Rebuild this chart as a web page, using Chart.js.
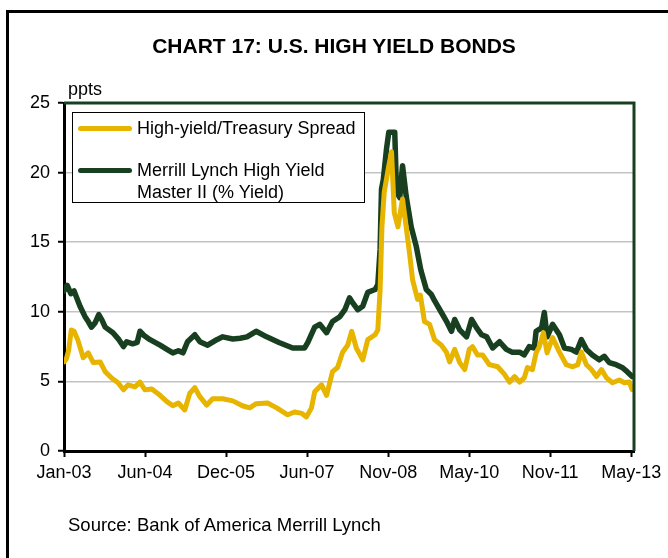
<!DOCTYPE html>
<html>
<head>
<meta charset="utf-8">
<script src="https://cdn.jsdelivr.net/npm/chart.js@4.4.1/dist/chart.umd.min.js"></script>
<style>
  html, body { margin: 0; padding: 0; background: #fff; }
  body { width: 668px; height: 558px; position: relative; overflow: hidden;
         font-family: "Liberation Sans", Arial, sans-serif; color: #000; }
  #frame { position: absolute; left: 6px; top: 10px; width: 700px; height: 600px;
           border: 3px solid #000; box-sizing: border-box; }
  #chartBox { position: absolute; left: 0; top: 0; width: 668px; height: 558px; }
  #title { position: absolute; left: 0; width: 668px; top: 34px; text-align: center;
           font-weight: bold; font-size: 21px; }
  #unit { position: absolute; left: 68px; top: 79px; font-size: 18px; }
  #source { position: absolute; left: 68px; top: 514px; font-size: 18.5px; }
  #legend { position: absolute; left: 72px; top: 112px; width: 293px; height: 91px;
            border: 1px solid #000; background: #fff; box-sizing: border-box; font-size: 18px; }
  .item { position: absolute; left: 5px; }
  .swatch { position: absolute; left: 0; width: 54px; height: 5px; border-radius: 3px; }
  .label { position: absolute; left: 59px; top: 0; line-height: 22px; white-space: nowrap; }
</style>
</head>
<body>
<div id="frame"></div>
<div id="chartBox"><canvas id="hyChart" width="668" height="558"></canvas></div>
<div id="title">CHART 17: U.S. HIGH YIELD BONDS</div>
<div id="unit">ppts</div>
<div id="legend"></div>
<div id="source">Source: Bank of America Merrill Lynch</div>
<script>
// x positions are months since Jan-03
const xLabels = ["Jan-03", "Jun-04", "Dec-05", "Jun-07", "Nov-08", "May-10", "Nov-11", "May-13"];
const lastMonth = 124;

const spreadMonths = [0, 0.5, 1, 1.6, 2.2, 3, 4.2, 5.3, 6.4, 7.9, 9, 10.4, 11.8, 13, 14, 15.5, 16.6, 17.7,
  19.2, 21, 22.5, 23.8, 25, 26.4, 27.5, 28.6, 29.7, 31.2, 32.5, 34.7, 36.9, 39, 40.6, 42, 44.5, 46.5,
  48.9, 50.4, 52, 53, 54.1, 54.8, 56.3, 57.4, 58.7, 59.8, 60.9, 62, 62.9, 63.9, 65.3, 66.4, 68, 68.6,
  69.1, 69.5, 70, 71, 71.6, 72.2, 73, 73.5, 74, 74.8, 75.5, 76.2, 77.3, 77.9, 78.8, 79.9, 81, 82.5,
  83.6, 84.3, 85.4, 86.5, 87.6, 88.6, 89.3, 90.4, 91.5, 93, 94.8, 96.3, 97.4, 98.5, 99.6, 100.6, 101.3,
  102.4, 103.2, 103.9, 104.8, 105.6, 106.8, 108.3, 109.8, 111.2, 112.3, 113.1, 114.2, 115.3, 116.4,
  117.5, 118.6, 119.9, 121.4, 122.5, 123.6, 124.2];
const spreadValues = [6.4, 6.6, 7.2, 8.7, 8.6, 8.0, 6.7, 7.05, 6.35, 6.4, 5.7, 5.25, 4.9, 4.4, 4.75, 4.6, 4.95, 4.4,
  4.45, 4.0, 3.55, 3.25, 3.45, 2.95, 4.15, 4.55, 3.9, 3.3, 3.75, 3.75, 3.6, 3.25, 3.1, 3.4, 3.45, 3.1,
  2.6, 2.8, 2.7, 2.45, 3.1, 4.25, 4.75, 4.0, 5.7, 6.0, 7.1, 7.6, 8.6, 7.4, 6.55, 8.0, 8.35, 8.7,
  11.6, 16.1, 18.6, 20.5, 21.5, 17.1, 16.1, 17.1, 18.1, 16.1, 14.3, 12.3, 10.9, 11.2, 9.3, 9.1, 8.0, 7.6,
  7.1, 6.4, 7.3, 6.35, 5.85, 7.3, 7.5, 6.9, 6.9, 6.2, 6.05, 5.5, 4.95, 5.35, 4.95, 5.25, 6.0,
  5.85, 7.05, 7.5, 8.5, 7.05, 8.15, 7.1, 6.2, 6.05, 6.2, 7.1, 6.2, 5.85, 5.35,
  5.85, 5.25, 4.9, 5.1, 4.9, 4.95, 4.4];

const yieldMonths = [0, 0.7, 1.5, 2.2, 3.5, 4.6, 5.3, 6, 6.8, 7.6, 8.3, 9, 10.7, 12, 13, 13.7, 15, 16, 16.6,
  17.5, 18.8, 21, 22.5, 23.8, 25, 26, 27, 28.6, 29.7, 31.4, 33.4, 34.7, 36.9, 38.5, 40, 42, 44.3, 47,
  50, 52.6, 53.3, 54.8, 55.9, 57.4, 58.7, 60.3, 61.4, 62.4, 63.2, 64.2, 65.3, 66.4, 68, 68.6, 69.1,
  69.4, 69.8, 70.5, 71, 72.3, 72.7, 73.4, 74, 74.8, 75.9, 77, 78, 79.2, 80.3, 81, 82.5, 83.8, 84.7,
  85.4, 86.5, 88, 89.1, 90.2, 91.3, 92.4, 93.7, 95.2, 96.7, 98, 99.6, 100.6, 101.7, 102.8, 103.2,
  104.4, 105, 105.6, 106.8, 108.3, 109.4, 110.9, 112, 113.1, 114.2, 115.5, 117, 118.1, 119.2, 120.7,
  122, 123.1, 124.2];
const yieldValues = [11.5, 11.9, 11.3, 11.5, 10.4, 9.65, 9.3, 8.9, 9.2, 9.8, 9.4, 8.9, 8.5, 8.0, 7.5, 7.85, 7.7, 7.8, 8.6,
  8.3, 8.0, 7.6, 7.3, 7.05, 7.2, 7.05, 7.85, 8.35, 7.85, 7.6, 8.0, 8.2, 8.05, 8.1, 8.2, 8.6, 8.2, 7.8,
  7.4, 7.4, 7.8, 8.9, 9.1, 8.5, 9.3, 9.65, 10.15, 11.0, 10.6, 10.15, 10.4, 11.4, 11.6, 11.95, 14.5,
  18.8, 19.5, 21.7, 22.9, 22.9, 18.6, 18.2, 20.5, 18.3, 16.1, 14.7, 13.0, 11.6, 11.25, 10.8, 9.95, 9.2, 8.6,
  9.45, 8.7, 8.2, 9.45, 8.85, 8.35, 8.2, 7.4, 7.85, 7.3, 7.1, 7.1, 6.9, 7.5, 7.4, 8.6,
  8.85, 9.95, 8.2, 9.1, 8.35, 7.4, 7.3, 7.1, 8.0, 7.3, 6.9, 6.55, 6.8, 6.35, 6.2,
  6.0, 5.7, 5.35];

const yellow = "#E7B400";
const green = "#183F20";

function toPoints(xs, ys) {
    return xs.map((x, i) => ({ x: x, y: ys[i] }));
}

const datasets = [
    { label: "High-yield/Treasury Spread", data: toPoints(spreadMonths, spreadValues),
      borderColor: yellow, borderWidth: 5 },
    { label: "Merrill Lynch High Yield\nMaster II (% Yield)", data: toPoints(yieldMonths, yieldValues),
      borderColor: green, borderWidth: 5.5 }
];

// green frame on the top and right of the plot
const plotFrame = {
    id: "plotFrame",
    afterDraw(chart) {
        const { ctx, chartArea: a } = chart;
        ctx.save();
        ctx.strokeStyle = green;
        ctx.lineWidth = 3;
        ctx.beginPath();
        ctx.moveTo(a.left, a.top);
        ctx.lineTo(a.right, a.top);
        ctx.lineTo(a.right, a.bottom);
        ctx.stroke();
        ctx.restore();
    }
};

Chart.defaults.font.family = '"Liberation Sans", Arial, sans-serif';
Chart.defaults.color = "#000";

new Chart(document.getElementById("hyChart"), {
    type: "line",
    data: { datasets: datasets },
    options: {
        responsive: false,
        animation: false,
        layout: { padding: { left: 0, right: 34, top: 103, bottom: 0 } },
        elements: {
            point: { radius: 0 },
            line: { tension: 0, borderJoinStyle: "round", borderCapStyle: "round" }
        },
        plugins: { legend: { display: false }, tooltip: { enabled: false } },
        scales: {
            x: {
                type: "linear",
                min: 0,
                max: 124.6,
                afterBuildTicks: scale => {
                    scale.ticks = xLabels.map((l, i) => ({ value: i * lastMonth / 7 }));
                },
                afterFit: scale => { scale.height = 107; },
                ticks: {
                    autoSkip: false,
                    maxRotation: 0,
                    padding: 5,
                    font: { size: 18 },
                    callback: (v, i) => xLabels[i]
                },
                grid: { drawOnChartArea: false, tickColor: "#000", tickLength: 6, tickWidth: 2 },
                border: { color: "#000", width: 3 }
            },
            y: {
                min: 0,
                max: 25,
                afterFit: scale => { scale.width = 64; },
                ticks: { stepSize: 5, padding: 8, font: { size: 18 } },
                grid: {
                    color: c => (c.tick.value === 0 || c.tick.value === 25) ? "rgba(0,0,0,0)" : "#C3C3C3",
                    lineWidth: 1.5,
                    tickColor: "#000",
                    tickLength: 6,
                    tickWidth: 2
                },
                border: { color: "#000", width: 3 }
            }
        }
    },
    plugins: [plotFrame]
});

// legend built from the datasets
const legend = document.getElementById("legend");
const itemTops = [4, 46];
datasets.forEach((ds, i) => {
    const item = document.createElement("div");
    item.className = "item";
    item.style.top = itemTops[i] + "px";
    item.innerHTML = '<div class="swatch" style="top:9px;background:' + ds.borderColor + '"></div>' +
        '<div class="label">' + ds.label.replace("\n", "<br>") + '</div>';
    legend.appendChild(item);
});
</script>
</body>
</html>
